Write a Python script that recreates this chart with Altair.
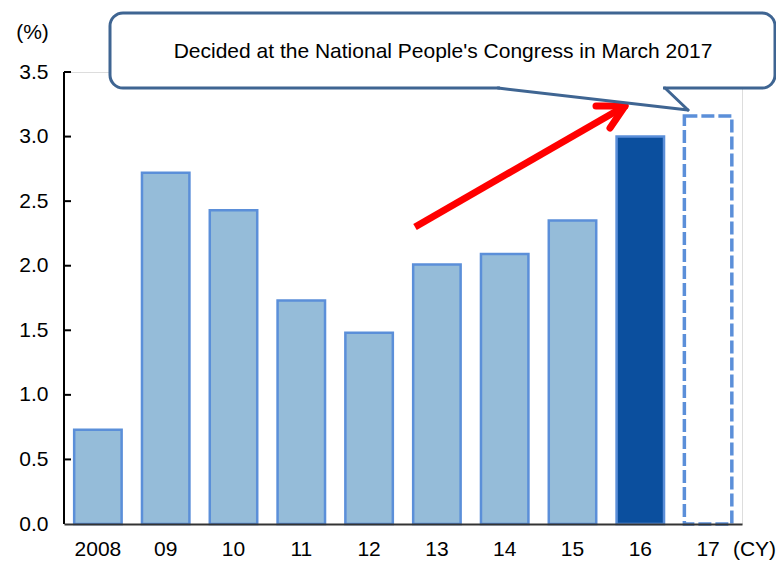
import altair as alt
import pandas as pd

# Calendar years and the ratio (%) for each
years = ["2008", "09", "10", "11", "12", "13", "14", "15", "16", "17"]
ratio = [0.73, 2.72, 2.43, 1.73, 1.48, 2.01, 2.09, 2.35, 3.0, 3.16]
kind = ["past"] * 8 + ["latest", "plan"]
y_ticks = [0.0, 0.5, 1.0, 1.5, 2.0, 2.5, 3.0, 3.5]

note = "Decided at the National People's Congress in March 2017"

FONT = "Liberation Sans"
FS = 21
W, H = 678, 452

df = pd.DataFrame({"year": years, "ratio": ratio, "kind": kind})

x_enc = alt.X(
    "year:N",
    sort=years,
    scale=alt.Scale(paddingInner=0.3, paddingOuter=0.15),
    axis=alt.Axis(
        title="(CY)", titleX=690, titleY=25, titleAngle=0, titleAlign="center",
        titleBaseline="middle", titleFont=FONT, titleFontSize=FS,
        titleFontWeight="normal", titleColor="black",
        labelAngle=0, labelFont=FONT, labelFontSize=FS, labelColor="black",
        labelBaseline="middle", labelPadding=25,
        ticks=False, tickSize=0, domainColor="#333333", domainWidth=2,
        zindex=1,
    ),
)
y_enc = alt.Y(
    "ratio:Q",
    scale=alt.Scale(domain=[0, 3.5], nice=False),
    axis=alt.Axis(
        values=y_ticks, format=".1f", grid=False,
        title="(%)", titleX=-32, titleY=-40, titleAngle=0, titleAlign="center",
        titleBaseline="middle", titleFont=FONT, titleFontSize=FS,
        titleFontWeight="normal", titleColor="black",
        labelFont=FONT, labelFontSize=FS, labelColor="black",
        labelPadding=16, ticks=False, tickSize=0, domain=False,
    ),
)

base = alt.Chart(df)

solid = base.transform_filter("datum.kind != 'plan'").mark_bar(
    stroke="#5b8fd9", strokeWidth=2.5
).encode(
    x=x_enc,
    y=y_enc,
    fill=alt.Fill(
        "kind:N",
        scale=alt.Scale(domain=["past", "latest"], range=["#95bcd9", "#0b4f9e"]),
        legend=None,
    ),
)

plan = base.transform_filter("datum.kind == 'plan'").mark_bar(
    fill="white", stroke="#5b8fd9", strokeWidth=3.5, strokeDash=[13, 4]
).encode(x=alt.X("year:N", sort=years), y=alt.Y("ratio:Q"))

# inward tick marks on the y axis
ticks = alt.Chart(pd.DataFrame({"ratio": y_ticks[1:]})).mark_rule(
    color="black", strokeWidth=2
).encode(x=alt.value(0), x2=alt.value(7), y=alt.Y("ratio:Q"))

one = pd.DataFrame({"k": [0]})


def seg(x1, y1, x2, y2, color, width, cap="butt"):
    return alt.Chart(one).mark_rule(
        color=color, strokeWidth=width, strokeCap=cap
    ).encode(x=alt.value(x1), y=alt.value(y1), x2=alt.value(x2), y2=alt.value(y2))


# y axis line as a thin filled strip
y_line = alt.Chart(one).mark_rect(fill="black", stroke=None).encode(
    x=alt.value(-1), x2=alt.value(1), y=alt.value(0), y2=alt.value(H)
)

# red arrow
arrow = [
    seg(351, 155, 556, 37, "#ff0000", 7),
    seg(532, 34, 561, 34, "#ff0000", 7, "round"),
    seg(546, 56, 561, 34, "#ff0000", 7, "round"),
]

# callout box with a pointer towards the 2017 bar
BOX = "#3f6592"
box = alt.Chart(one).mark_rect(
    fill="white", stroke=BOX, strokeWidth=3, cornerRadius=13
).encode(x=alt.value(46), x2=alt.value(711), y=alt.value(-59), y2=alt.value(16))
gap = seg(436, 16, 599, 16, "white", 5)
pointer = [
    seg(434, 16, 624, 38, BOX, 3, "round"),
    seg(601, 16, 624, 38, BOX, 3, "round"),
]
label = alt.Chart(one).mark_text(
    text=note, font=FONT, fontSize=FS, color="black", align="center", baseline="middle"
).encode(x=alt.value(379), y=alt.value(-20))

chart = alt.layer(
    solid, plan, ticks, y_line, *arrow, box, gap, *pointer, label
).properties(
    width=W, height=H,
    autosize=alt.AutoSizeParams(type="none"),
    padding={"left": 64, "top": 72, "right": 34, "bottom": 37},
).configure_view(stroke=None).configure(background="white")

chart.save("out.html", embed_options={"renderer": "svg", "actions": False})
